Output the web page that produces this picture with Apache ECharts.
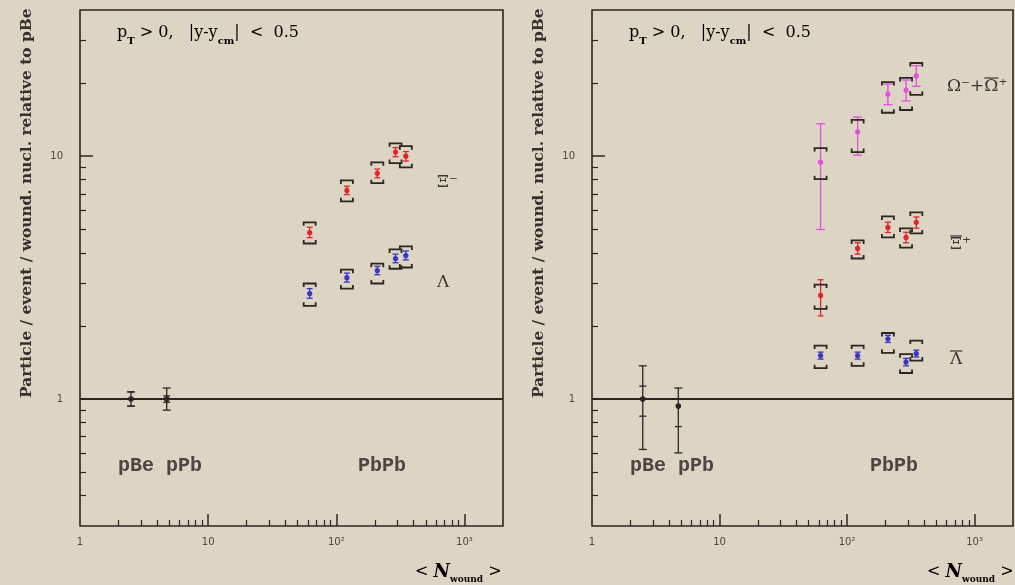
<!DOCTYPE html>
<html>
<head>
<meta charset="utf-8">
<script src="https://cdn.jsdelivr.net/npm/echarts@6/dist/echarts.min.js"></script>
<style>
  html, body { margin: 0; padding: 0; background: #dcd5c3; }
  #chart { width: 1015px; height: 585px; }
</style>
</head>
<body>
<div id="chart"></div>
<script>
// Mean number of wounded nucleons of the Pb-Pb centrality classes
const nWound = [62, 121, 209, 290, 349];
// p-Be and p-Pb reference points
const refN = [2.5, 4.75];

// Left panel: Xi- (red) and Lambda (blue)
const xiY      = [4.85, 7.23, 8.50, 10.4, 10.0];
const xiStatLo = [4.62, 6.95, 8.15, 9.95, 9.55];
const xiStatHi = [5.10, 7.52, 8.85, 10.85, 10.45];
const xiSysLo  = [4.37, 6.52, 7.74, 9.37, 9.00];
const xiSysHi  = [5.34, 7.95, 9.44, 11.3, 11.0];

const lamY      = [2.72, 3.16, 3.38, 3.79, 3.90];
const lamStatLo = [2.60, 3.03, 3.25, 3.64, 3.74];
const lamStatHi = [2.85, 3.30, 3.52, 3.95, 4.07];
const lamSysLo  = [2.42, 2.85, 2.99, 3.44, 3.48];
const lamSysHi  = [2.99, 3.41, 3.61, 4.13, 4.25];

const refLeftY    = [1.00, 1.00];
const refLeftLo   = [0.935, 0.90];
const refLeftHi   = [1.07, 1.11];
const refLeftInLo = [0.935, 0.97];
const refLeftInHi = [1.07, 1.03];

// Right panel: Omega- + anti-Omega+ (magenta), anti-Xi+ (red), anti-Lambda (blue)
const omY      = [9.45, 12.6, 18.0, 18.7, 21.4];
const omStatLo = [4.99, 10.1, 16.3, 16.9, 19.4];
const omStatHi = [13.6, 14.5, 19.8, 20.6, 23.6];
const omSysLo  = [8.04, 10.4, 15.1, 15.5, 17.9];
const omSysHi  = [10.8, 14.1, 20.2, 21.0, 24.2];

const axiY      = [2.67, 4.17, 5.09, 4.63, 5.34];
const axiStatLo = [2.20, 3.95, 4.85, 4.40, 5.05];
const axiStatHi = [3.10, 4.40, 5.35, 4.86, 5.62];
const axiSysLo  = [2.35, 3.79, 4.63, 4.20, 4.81];
const axiSysHi  = [2.96, 4.50, 5.65, 5.04, 5.87];

const alamY      = [1.51, 1.51, 1.77, 1.42, 1.54];
const alamStatLo = [1.46, 1.46, 1.71, 1.37, 1.49];
const alamStatHi = [1.56, 1.56, 1.83, 1.47, 1.59];
const alamSysLo  = [1.34, 1.37, 1.55, 1.28, 1.44];
const alamSysHi  = [1.66, 1.66, 1.87, 1.53, 1.74];

const refRightY    = [1.00, 0.935];
const refRightLo   = [0.62, 0.60];
const refRightHi   = [1.37, 1.11];
const refRightInLo = [0.85, 0.77];
const refRightInHi = [1.13, 1.00];

// Axis ticks and labels
const xMajorTicks = [1, 10, 100, 1000];
const xTickText   = ['1', '10', '10²', '10³'];
const xMinorTicks = [2, 3, 4, 5, 6, 7, 8, 9, 20, 30, 40, 50, 60, 70, 80, 90,
                     200, 300, 400, 500, 600, 700, 800, 900];
const yMajorTicks = [1, 10];
const yTickText   = ['1', '10'];
const yMinorTicks = [0.4, 0.5, 0.6, 0.7, 0.8, 0.9, 2, 3, 4, 5, 6, 7, 8, 9, 20, 30];

const X_MIN = 1, X_MAX = 2000, Y_MIN = 0.3, Y_MAX = 40;
const INK = '#2a2622';
const TXT = '#3a3632';
const RED = '#e0262a', BLUE = '#3a36c4', MAGENTA = '#e34fe0';
const SERIF = 'DejaVu Serif';

function rows(x, y, lo, hi, slo, shi) {
  return x.map((v, i) => [v, y[i], lo[i], hi[i], slo[i], shi[i]]);
}

// Value with statistical bar (coloured) and systematic brackets (black)
function pointRenderer(color, capHalf) {
  return function (params, api) {
    const x = api.value(0);
    const p = api.coord([x, api.value(1)]);
    const lo = api.coord([x, api.value(2)]);
    const hi = api.coord([x, api.value(3)]);
    const slo = api.coord([x, api.value(4)]);
    const shi = api.coord([x, api.value(5)]);
    const bw = 6, bt = 3.5;
    const statStyle = { stroke: color, lineWidth: 1.3, fill: null };
    const sysStyle = { stroke: INK, lineWidth: 1.8, fill: null };
    return {
      type: 'group',
      children: [
        { type: 'line', shape: { x1: lo[0], y1: lo[1], x2: hi[0], y2: hi[1] }, style: statStyle },
        { type: 'line', shape: { x1: lo[0] - capHalf, y1: lo[1], x2: lo[0] + capHalf, y2: lo[1] }, style: statStyle },
        { type: 'line', shape: { x1: hi[0] - capHalf, y1: hi[1], x2: hi[0] + capHalf, y2: hi[1] }, style: statStyle },
        { type: 'polyline', shape: { points: [[shi[0] - bw, shi[1] + bt], [shi[0] - bw, shi[1]], [shi[0] + bw, shi[1]], [shi[0] + bw, shi[1] + bt]] }, style: sysStyle },
        { type: 'polyline', shape: { points: [[slo[0] - bw, slo[1] - bt], [slo[0] - bw, slo[1]], [slo[0] + bw, slo[1]], [slo[0] + bw, slo[1] - bt]] }, style: sysStyle },
        { type: 'circle', shape: { cx: p[0], cy: p[1], r: 2.6 }, style: { fill: color } }
      ]
    };
  };
}

// Reference points: black bars with caps at both error levels
function refRenderer(params, api) {
  const x = api.value(0);
  const p = api.coord([x, api.value(1)]);
  const lo = api.coord([x, api.value(2)]);
  const hi = api.coord([x, api.value(3)]);
  const ilo = api.coord([x, api.value(4)]);
  const ihi = api.coord([x, api.value(5)]);
  const st = { stroke: INK, lineWidth: 1.3, fill: null };
  const cap = (q, h) => ({ type: 'line', shape: { x1: q[0] - h, y1: q[1], x2: q[0] + h, y2: q[1] }, style: st });
  return {
    type: 'group',
    children: [
      { type: 'line', shape: { x1: lo[0], y1: lo[1], x2: hi[0], y2: hi[1] }, style: st },
      cap(lo, 4), cap(hi, 4), cap(ilo, 3.5), cap(ihi, 3.5),
      { type: 'circle', shape: { cx: p[0], cy: p[1], r: 2.8 }, style: { fill: INK } }
    ]
  };
}

const tickFont = { color: '#4a4640', fontSize: 10, fontFamily: 'DejaVu Sans' };

function xAxes(gridIndex) {
  return [
    {
      type: 'log', logBase: 10, gridIndex, min: X_MIN, max: X_MAX, position: 'bottom',
      axisLine: { show: false },
      splitLine: { show: false },
      axisTick: { show: true, inside: true, length: 12, customValues: xMajorTicks.slice(1),
                  lineStyle: { color: INK, width: 1.5 } },
      axisLabel: { show: true, customValues: xMajorTicks, margin: 11, ...tickFont,
                   formatter: v => xTickText[xMajorTicks.findIndex(t => Math.abs(t - v) < 1e-6 * t)] || '' }
    },
    {
      type: 'log', logBase: 10, gridIndex, min: X_MIN, max: X_MAX, position: 'bottom',
      axisLine: { show: false }, splitLine: { show: false }, axisLabel: { show: false },
      axisTick: { show: true, inside: true, length: 6, customValues: xMinorTicks,
                  lineStyle: { color: INK, width: 1.2 } }
    }
  ];
}

function yAxes(gridIndex) {
  return [
    {
      type: 'log', logBase: 10, gridIndex, min: Y_MIN, max: Y_MAX, position: 'left',
      axisLine: { show: false }, splitLine: { show: false },
      axisTick: { show: true, inside: true, length: 13, customValues: yMajorTicks,
                  lineStyle: { color: INK, width: 1.5 } },
      axisLabel: { show: true, customValues: yMajorTicks, margin: 17, ...tickFont,
                   formatter: v => yTickText[yMajorTicks.findIndex(t => Math.abs(t - v) < 1e-6 * t)] || '' }
    },
    {
      type: 'log', logBase: 10, gridIndex, min: Y_MIN, max: Y_MAX, position: 'left',
      axisLine: { show: false }, splitLine: { show: false }, axisLabel: { show: false },
      axisTick: { show: true, inside: true, length: 6, customValues: yMinorTicks,
                  lineStyle: { color: INK, width: 1.2 } }
    }
  ];
}

const unityLine = {
  silent: true, symbol: 'none', label: { show: false },
  lineStyle: { color: INK, width: 2, type: 'solid' },
  data: [{ yAxis: 1 }]
};

function custom(xi, yi, data, renderItem, extra) {
  return Object.assign({ type: 'custom', xAxisIndex: xi, yAxisIndex: yi, data, renderItem, clip: false, z: 5 }, extra || {});
}

// Text measuring for placing overlines above particle symbols
const measureCtx = document.createElement('canvas').getContext('2d');
function textWidth(text, font) {
  measureCtx.font = font;
  return measureCtx.measureText(text).width;
}

const LABEL_FONT = `17px "${SERIF}"`;
// Particle label; `bars` lists [prefix, glyph] pairs whose glyph carries an overline
function particleLabel(x, y, text, bars) {
  const els = [{ type: 'text', x, y, style: { text, font: LABEL_FONT, fill: TXT, verticalAlign: 'middle' } }];
  (bars || []).forEach(([prefix, glyph]) => {
    const x1 = x + textWidth(prefix, LABEL_FONT);
    const x2 = x1 + textWidth(glyph, LABEL_FONT);
    els.push({ type: 'line', shape: { x1, y1: y - 9, x2, y2: y - 9 }, style: { stroke: TXT, lineWidth: 1.2 } });
  });
  return els;
}

const kinRich = {
  n: { fontSize: 16, fontFamily: SERIF, color: TXT, verticalAlign: 'middle', lineHeight: 26 },
  s: { fontSize: 10, fontFamily: SERIF, fontWeight: 'bold', color: TXT, verticalAlign: 'bottom', lineHeight: 10 }
};
const kinText = '{n|p}{s|T}{n| > 0,   |y-y}{s|cm}{n||  <  0.5}';

const nRich = {
  a: { fontSize: 16, fontFamily: SERIF, color: TXT, lineHeight: 24, verticalAlign: 'middle' },
  n: { fontSize: 18, fontFamily: SERIF, fontWeight: 'bold', fontStyle: 'italic', color: TXT, lineHeight: 24, verticalAlign: 'middle' },
  s: { fontSize: 9, fontFamily: SERIF, fontWeight: 'bold', color: TXT, lineHeight: 9, verticalAlign: 'bottom' }
};
const nText = '{a|< }{n|N}{s|wound}{a| >}';

const yTitle = 'Particle / event / wound. nucl. relative to pBe';

function panelGraphics(x0) {
  return [
    { type: 'text', x: x0 + 27, y: 398, rotation: Math.PI / 2,
      style: { text: yTitle, font: `bold 15.4px "${SERIF}"`, fill: '#34302c', align: 'left', verticalAlign: 'middle' } },
    { type: 'text', x: x0 + 117, y: 33,
      style: { text: kinText, rich: kinRich, verticalAlign: 'middle' } },
    { type: 'text', x: x0 + 118, y: 466,
      style: { text: 'pBe pPb', font: `bold 20px "Liberation Mono"`, fill: '#4a4640', verticalAlign: 'middle' } },
    { type: 'text', x: x0 + 358, y: 466,
      style: { text: 'PbPb', font: `bold 20px "Liberation Mono"`, fill: '#4a4640', verticalAlign: 'middle' } },
    { type: 'text', x: x0 + 415, y: 572,
      style: { text: nText, rich: nRich, verticalAlign: 'middle' } }
  ];
}

const chart = echarts.init(document.getElementById('chart'), null, { renderer: 'canvas' });
chart.setOption({
  backgroundColor: '#dcd5c3',
  animation: false,
  grid: [
    { left: 80, top: 10, width: 423, height: 516, show: true, borderColor: INK, borderWidth: 1.6, backgroundColor: 'transparent' },
    { left: 592, top: 10, width: 421, height: 516, show: true, borderColor: INK, borderWidth: 1.6, backgroundColor: 'transparent' }
  ],
  xAxis: [...xAxes(0), ...xAxes(1)],
  yAxis: [...yAxes(0), ...yAxes(1)],
  series: [
    custom(0, 0, rows(refN, refLeftY, refLeftLo, refLeftHi, refLeftInLo, refLeftInHi), refRenderer, { markLine: unityLine }),
    custom(0, 0, rows(nWound, lamY, lamStatLo, lamStatHi, lamSysLo, lamSysHi), pointRenderer(BLUE, 3)),
    custom(0, 0, rows(nWound, xiY, xiStatLo, xiStatHi, xiSysLo, xiSysHi), pointRenderer(RED, 3)),
    custom(2, 2, rows(refN, refRightY, refRightLo, refRightHi, refRightInLo, refRightInHi), refRenderer, { markLine: unityLine }),
    custom(2, 2, rows(nWound, alamY, alamStatLo, alamStatHi, alamSysLo, alamSysHi), pointRenderer(BLUE, 3)),
    custom(2, 2, rows(nWound, axiY, axiStatLo, axiStatHi, axiSysLo, axiSysHi), pointRenderer(RED, 3)),
    custom(2, 2, rows(nWound, omY, omStatLo, omStatHi, omSysLo, omSysHi), pointRenderer(MAGENTA, 4.5))
  ],
  graphic: [
    ...panelGraphics(0),
    ...panelGraphics(512),
    ...particleLabel(437, 183, 'Ξ⁻'),
    ...particleLabel(437, 283, 'Λ'),
    ...particleLabel(947, 87, 'Ω⁻+Ω⁺', [['Ω⁻+', 'Ω']]),
    ...particleLabel(950, 245, 'Ξ⁺', [['', 'Ξ']]),
    ...particleLabel(950, 360, 'Λ', [['', 'Λ']])
  ]
});
</script>
</body>
</html>
